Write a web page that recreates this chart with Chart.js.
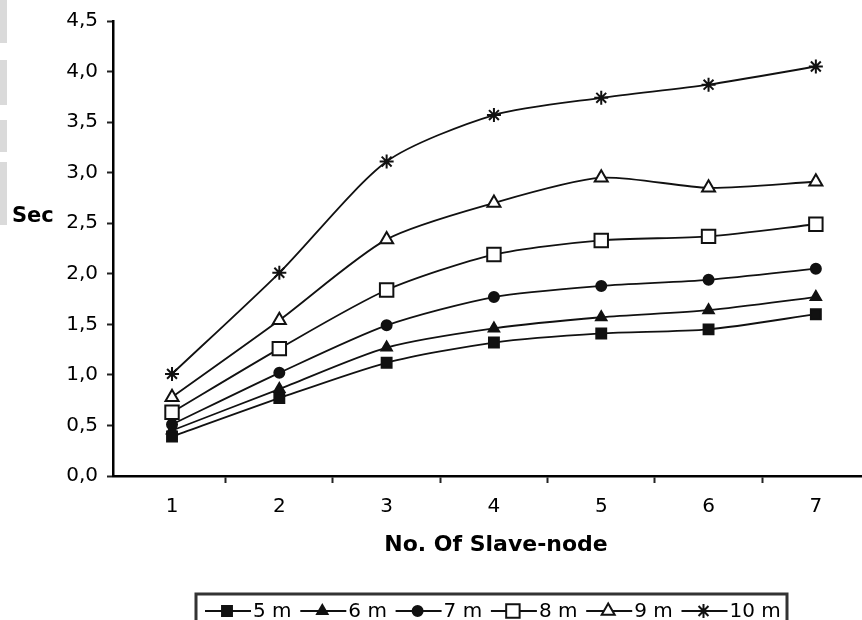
<!DOCTYPE html>
<html>
<head>
<meta charset="utf-8">
<script src="https://cdn.jsdelivr.net/npm/chart.js@4/dist/chart.umd.min.js"></script>
<style>
  body { margin: 0; background: #fff; }
  #wrap { position: relative; width: 862px; height: 620px; overflow: hidden; }
  .smudge { position: absolute; left: 0; width: 7px; background: #dadada; }
</style>
</head>
<body>
<div id="wrap">
  <div class="smudge" style="top:0;height:43px"></div>
  <div class="smudge" style="top:60px;height:45px"></div>
  <div class="smudge" style="top:120px;height:32px"></div>
  <div class="smudge" style="top:162px;height:63px"></div>
  <canvas id="myChart" width="862" height="620"></canvas>
</div>
<script>
// Sec vs number of slave nodes, one curve per distance
const nodes = [1, 2, 3, 4, 5, 6, 7];
const seriesNames = ['5 m', '6 m', '7 m', '8 m', '9 m', '10 m'];
const m5  = [0.39, 0.77, 1.12, 1.32, 1.41, 1.45, 1.60];
const m6  = [0.45, 0.86, 1.27, 1.46, 1.57, 1.64, 1.77];
const m7  = [0.51, 1.02, 1.49, 1.77, 1.88, 1.94, 2.05];
const m8  = [0.63, 1.26, 1.84, 2.19, 2.33, 2.37, 2.49];
const m9  = [0.78, 1.54, 2.34, 2.70, 2.95, 2.85, 2.91];
const m10 = [1.01, 2.01, 3.11, 3.57, 3.74, 3.87, 4.05];
const yTicks = [0, 0.5, 1, 1.5, 2, 2.5, 3, 3.5, 4, 4.5];

const values = [m5, m6, m7, m8, m9, m10];
const ink = '#111';
const marks = [
  { pointStyle: 'rect', radius: 7, fill: ink },
  { pointStyle: 'triangle', radius: 6, fill: ink },
  { pointStyle: 'circle', radius: 5, fill: ink },
  { pointStyle: 'rect', radius: 9.5, fill: '#fff' },
  { pointStyle: 'triangle', radius: 7.5, fill: '#fff' },
  { pointStyle: 'star', radius: 7, fill: ink }
];

const datasets = values.map((v, i) => ({
  label: seriesNames[i],
  data: v.map((y, j) => ({ x: nodes[j], y: y })),
  borderColor: ink,
  borderWidth: 1.8,
  tension: 0.25,
  pointStyle: marks[i].pointStyle,
  pointRadius: marks[i].radius,
  pointBackgroundColor: marks[i].fill,
  pointBorderColor: ink,
  pointBorderWidth: 2
}));

const font = 'DejaVu Sans';

// titles and the boxed legend at the bottom
const extras = {
  id: 'extras',
  afterDraw(chart) {
    const ctx = chart.ctx;
    ctx.save();
    ctx.fillStyle = '#000';
    ctx.font = 'bold 21px "' + font + '"';
    ctx.textBaseline = 'middle';
    ctx.textAlign = 'left';
    ctx.fillText('Sec', 12, 217);
    ctx.font = 'bold 22px "' + font + '"';
    ctx.textAlign = 'center';
    ctx.fillText('No. Of Slave-node', 496, 545);

    ctx.strokeStyle = '#333';
    ctx.lineWidth = 3;
    ctx.strokeRect(196, 594, 591, 60);

    ctx.font = '20px "' + font + '"';
    ctx.textAlign = 'left';
    ctx.textBaseline = 'alphabetic';
    seriesNames.forEach((name, i) => {
      const x0 = 205 + i * 95.3;
      const y0 = 611;
      ctx.strokeStyle = ink;
      ctx.lineWidth = 2;
      ctx.beginPath();
      ctx.moveTo(x0, y0);
      ctx.lineTo(x0 + 46, y0);
      ctx.stroke();
      ctx.fillStyle = marks[i].fill;
      ctx.lineWidth = 2;
      Chart.helpers.drawPoint(ctx, {
        pointStyle: marks[i].pointStyle,
        radius: marks[i].radius,
        rotation: 0,
        borderWidth: 2
      }, x0 + 22, y0);
      ctx.fillStyle = '#000';
      ctx.fillText(name, x0 + 48, 617);
    });
    ctx.restore();
  }
};

new Chart(document.getElementById('myChart'), {
  type: 'line',
  data: { datasets: datasets },
  options: {
    responsive: false,
    animation: false,
    layout: { autoPadding: false, padding: { top: 21, right: 0, bottom: 0, left: 0 } },
    plugins: { legend: { display: false }, tooltip: { enabled: false } },
    scales: {
      x: {
        type: 'linear',
        min: 0.45,
        max: 7.43,
        afterBuildTicks: (s) => {
          const t = [];
          nodes.forEach((n, i) => {
            t.push({ value: n });
            if (i < nodes.length - 1) t.push({ value: n + 0.5 });
          });
          s.ticks = t;
        },
        afterFit: (s) => { s.height = 144; },
        grid: {
          drawOnChartArea: false,
          tickLength: 7,
          tickWidth: 2,
          tickColor: (c) => (c.tick && Number.isInteger(c.tick.value)) ? 'rgba(0,0,0,0)' : '#222'
        },
        border: { color: '#000', width: 2.5 },
        ticks: {
          autoSkip: false,
          maxRotation: 0,
          padding: 12,
          color: '#000',
          font: { family: font, size: 20 },
          callback: (v) => Number.isInteger(v) ? String(v) : ''
        }
      },
      y: {
        min: 0,
        max: 4.5,
        afterBuildTicks: (s) => { s.ticks = yTicks.map(v => ({ value: v })); },
        afterFit: (s) => { s.width = 113; },
        grid: { drawOnChartArea: false, tickLength: 6, tickWidth: 2, tickColor: '#222' },
        border: { color: '#000', width: 2.5 },
        ticks: {
          padding: 9,
          color: '#000',
          font: { family: font, size: 20 },
          callback: (v) => v.toFixed(1).replace('.', ',')
        }
      }
    }
  },
  plugins: [extras]
});
</script>
</body>
</html>
